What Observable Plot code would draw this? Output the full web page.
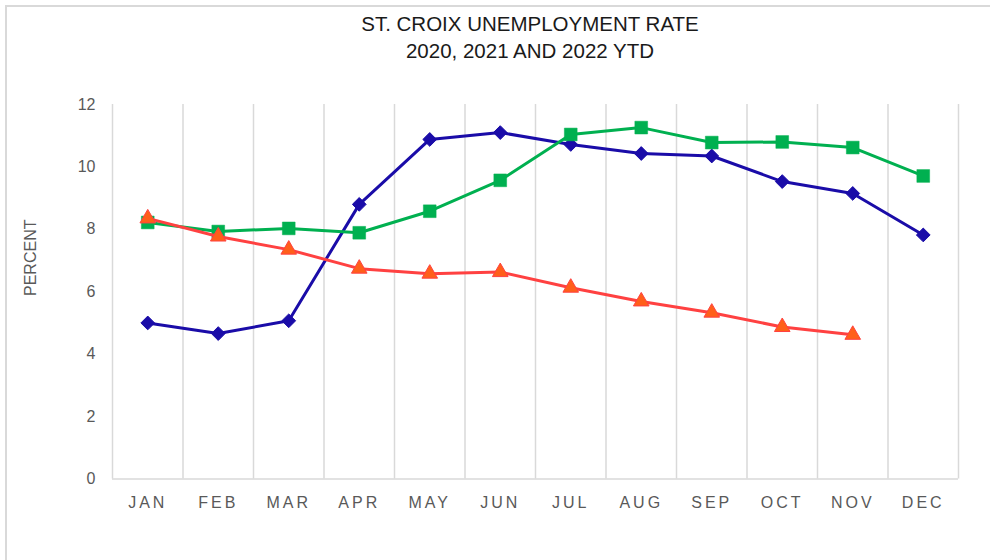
<!DOCTYPE html>
<html>
<head>
<meta charset="utf-8">
<script src="https://cdn.jsdelivr.net/npm/d3@7"></script>
<script src="https://cdn.jsdelivr.net/npm/@observablehq/plot@0.6"></script>
<style>
  html, body { margin: 0; padding: 0; background: #fff; }
  #wrap { position: relative; width: 990px; height: 560px; overflow: hidden; font-family: "Liberation Sans", Arial, sans-serif; }
  #frame { position: absolute; left: 5px; top: 5px; width: 1000px; height: 600px; border-top: 2px solid #d9d9d9; border-left: 2px solid #d9d9d9; box-sizing: border-box; }
  #title { position: absolute; left: 280px; width: 500px; top: 10px; text-align: center; font-size: 20.5px; line-height: 27px; color: #1a1a1a; }
  #chart { position: absolute; left: 0; top: 70px; }
  #chart svg g[aria-label="x-axis tick label"] text { letter-spacing: 3px; }
</style>
</head>
<body>
<div id="wrap">
  <div id="frame"></div>
  <div id="title">ST. CROIX UNEMPLOYMENT RATE<br>2020, 2021 AND 2022 YTD</div>
  <div id="chart"></div>
</div>
<script>
const months = ["JAN","FEB","MAR","APR","MAY","JUN","JUL","AUG","SEP","OCT","NOV","DEC"];
const rate2020 = [5.00, 4.66, 5.07, 8.80, 10.88, 11.10, 10.72, 10.43, 10.35, 9.53, 9.15, 7.82];
const rate2021 = [8.22, 7.93, 8.03, 7.89, 8.58, 9.57, 11.04, 11.26, 10.78, 10.80, 10.62, 9.71];
const rate2022 = [8.35, 7.77, 7.35, 6.74, 6.58, 6.63, 6.13, 5.69, 5.33, 4.87, 4.62];
const yTicks = [0, 2, 4, 6, 8, 10, 12];
const yLabel = ["PERCENT"];

const toRows = (vals) => vals.map((v, i) => ({i, month: months[i], v}));
const d2020 = toRows(rate2020), d2021 = toRows(rate2021), d2022 = toRows(rate2022);
const bounds = months.map((m, i) => i - 0.5).concat([months.length - 0.5]);

const blue = "#1a0ca8", green = "#00b050", red = "#ff4141", orange = "#ff5f1a";

const chart = Plot.plot({
  width: 990,
  height: 490,
  marginTop: 34,
  marginBottom: 81.5,
  marginLeft: 112,
  marginRight: 32,
  style: {fontFamily: "'Liberation Sans', Arial, sans-serif", background: "transparent", overflow: "visible"},
  x: {type: "linear", domain: [-0.5, months.length - 0.5]},
  y: {domain: [0, 12]},
  marks: [
    Plot.ruleX(bounds, {stroke: "#d9d9d9", strokeWidth: 1.5}),
    Plot.ruleY([0], {stroke: "#d9d9d9", strokeWidth: 1.5}),
    Plot.axisX(months.map((m, i) => i), {tickSize: 0, tickPadding: 17.5, tickFormat: i => months[i], fontSize: 16, fill: "#595959", label: null}),
    Plot.axisY(yTicks, {tickSize: 0, tickPadding: 17, fontSize: 16, fill: "#595959", label: null}),
    Plot.text(yLabel, {frameAnchor: "left", rotate: -90, dx: -82, dy: -34, fontSize: 16, fill: "#595959", lineAnchor: "middle", textAnchor: "middle"}),
    Plot.line(d2020, {x: "i", y: "v", stroke: blue, strokeWidth: 3}),
    Plot.dot(d2020, {x: "i", y: "v", symbol: "diamond2", r: 6.2, fill: blue, stroke: blue, strokeWidth: 1}),
    Plot.line(d2021, {x: "i", y: "v", stroke: green, strokeWidth: 3}),
    Plot.dot(d2021, {x: "i", y: "v", symbol: "square", r: 7.2, fill: green, stroke: green, strokeWidth: 0.5}),
    Plot.line(d2022, {x: "i", y: "v", stroke: red, strokeWidth: 3}),
    Plot.dot(d2022, {x: "i", y: "v", symbol: "triangle", r: 5.8, fill: orange, stroke: red, strokeWidth: 1})
  ]
});
document.getElementById("chart").appendChild(chart);
</script>
</body>
</html>
